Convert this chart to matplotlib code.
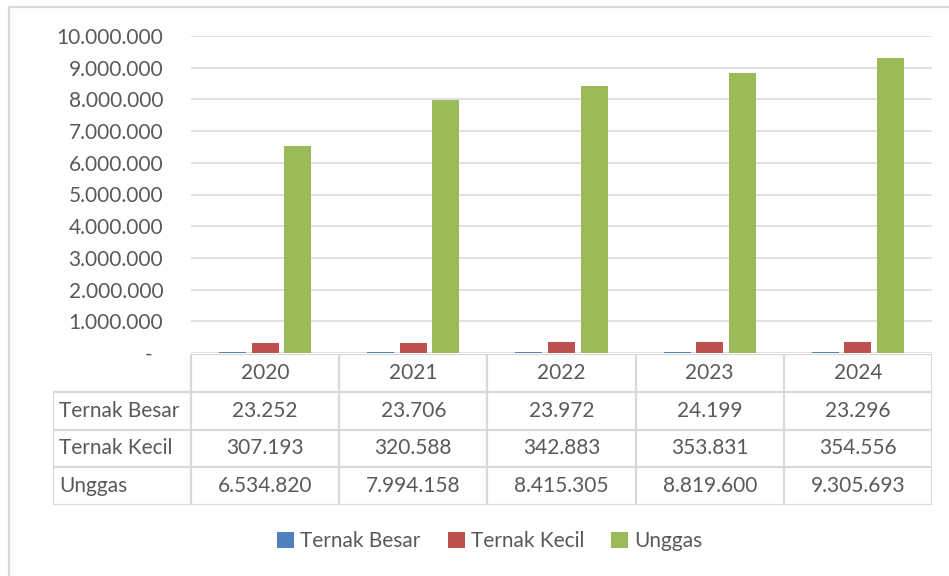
import matplotlib
matplotlib.use("Agg")
import matplotlib.pyplot as plt
from matplotlib.lines import Line2D
from matplotlib.patches import Patch
from matplotlib.ticker import FuncFormatter, MultipleLocator

years = ["2020", "2021", "2022", "2023", "2024"]
series_names = ["Ternak Besar", "Ternak Kecil", "Unggas"]
ternak_besar = [23252, 23706, 23972, 24199, 23296]
ternak_kecil = [307193, 320588, 342883, 353831, 354556]
unggas = [6534820, 7994158, 8415305, 8819600, 9305693]

colors = ["#4F81BD", "#C0504D", "#9BBB59"]
text_grey = "#595959"
line_grey = "#D9D9D9"

plt.rcParams["font.family"] = ["Lato", "DejaVu Sans"]
FS = 15

W, H = 949, 576
fig = plt.figure(figsize=(W / 100, H / 100), dpi=100)


def box(x0, y_top, x1, y_bot):
    # pixel box (origin top-left) -> figure fraction rect
    return [x0 / W, 1 - y_bot / H, (x1 - x0) / W, (y_bot - y_top) / H]


def dots(v):
    return f"{v:,}".replace(",", ".")


# chart frame, running off the right and bottom edges
fig.add_artist(Line2D([9 / W, 9 / W, 1.0], [0.0, 1 - 7 / H, 1 - 7 / H],
                      transform=fig.transFigure, color=line_grey, lw=1.6))

# column chart
ax = fig.add_axes(box(191, 36, 932, 353))
values = [ternak_besar, ternak_kecil, unggas]
x = list(range(len(years)))
offsets = [-0.22, 0.0, 0.22]
for vals, off, c, name in zip(values, offsets, colors, series_names):
    ax.bar([i + off for i in x], vals, width=0.182, color=c, label=name, zorder=3)

ax.set_xlim(-0.5, len(years) - 0.5)
ax.set_ylim(0, 10_000_000)
ax.yaxis.set_major_locator(MultipleLocator(1_000_000))
ax.yaxis.set_major_formatter(FuncFormatter(lambda v, p: "-  " if v == 0 else dots(int(v))))
ax.grid(axis="y", color=line_grey, lw=1.1, zorder=0)
for s in ax.spines.values():
    s.set_visible(False)
ax.tick_params(axis="y", length=0, pad=20, labelsize=FS, labelcolor=text_grey)
ax.tick_params(axis="x", length=0, labelbottom=False)

# data table below the plot area
px_per_cat = (932 - 191) / len(years)
label_w = (191 - 53) / px_per_cat
tab = fig.add_axes(box(53, 354, 932, 505))
tab.set_xlim(-0.5 - label_w, len(years) - 0.5)
tab.set_ylim(4, 0)
tab.axis("off")

lkw = dict(color=line_grey, lw=1.6, solid_capstyle="projecting")
# horizontal rules
tab.plot([-0.5, len(years) - 0.5], [0, 0], **lkw)
for r in range(1, 5):
    tab.plot([-0.5 - label_w, len(years) - 0.5], [r, r], **lkw)
# vertical rules
tab.plot([-0.5 - label_w] * 2, [1, 4], **lkw)
for i in range(len(years) + 1):
    tab.plot([i - 0.5] * 2, [0, 4], **lkw)

for i, yr in enumerate(years):
    tab.text(i, 0.5, yr, ha="center", va="center", fontsize=FS, color=text_grey)
for r, (name, vals) in enumerate(zip(series_names, values), start=1):
    tab.text(-0.5 - label_w + 6 / px_per_cat, r + 0.5, name, ha="left", va="center",
             fontsize=FS, color=text_grey)
    for i, v in enumerate(vals):
        tab.text(i, r + 0.5, dots(v), ha="center", va="center", fontsize=FS, color=text_grey)

# legend
handles = [Patch(facecolor=c, edgecolor="none", label=n) for c, n in zip(colors, series_names)]
fig.legend(handles=handles, loc="center", bbox_to_anchor=(490 / W, 1 - 541 / H),
           ncol=3, frameon=False, fontsize=FS, labelcolor=text_grey,
           handlelength=0.8, handleheight=0.8, handletextpad=0.3, columnspacing=1.3)

fig.savefig("out.png", dpi=100)
